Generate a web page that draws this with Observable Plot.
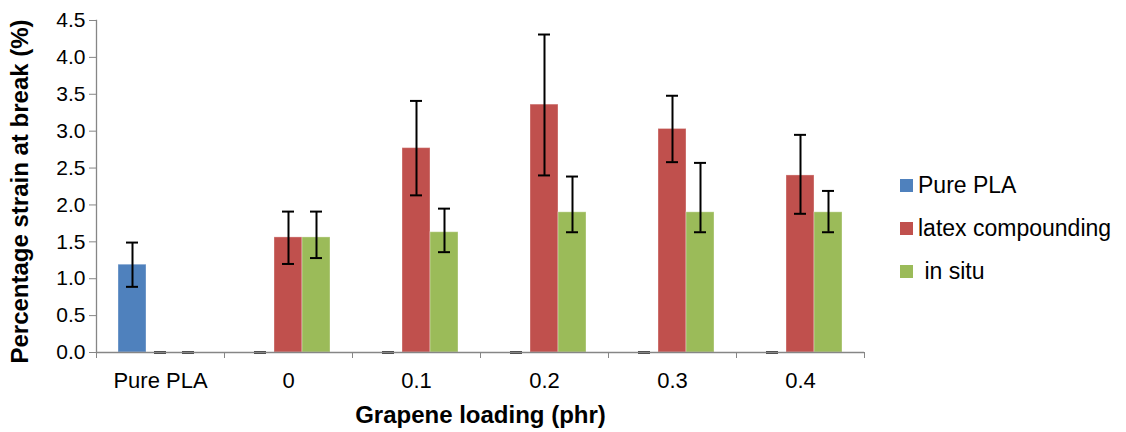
<!DOCTYPE html>
<html>
<head>
<meta charset="utf-8">
<script src="https://cdn.jsdelivr.net/npm/d3@7"></script>
<script src="https://cdn.jsdelivr.net/npm/@observablehq/plot@0.6"></script>
<style>
  html, body { margin: 0; padding: 0; background: #fff; }
  #wrap { position: relative; width: 1126px; height: 432px; font-family: "Liberation Sans", Arial, sans-serif; }
  #legend { position: absolute; left: 900px; top: 164px; font-size: 23px; color: #000; }
  .row { display: flex; align-items: center; height: 43px; }
  .sw { width: 13px; height: 13px; margin-right: 5px; }
</style>
</head>
<body>
<div id="wrap"><div id="legend"></div></div>
<script>
const categories = ["Pure PLA", "0", "0.1", "0.2", "0.3", "0.4"];
const seriesNames = ["Pure PLA", "latex compounding", " in situ"];
const colors = ["#4F81BD", "#C0504D", "#9BBB59"];

const purePLA    = [1.19, 0, 0, 0, 0, 0];
const purePLAHi  = [1.49, 0, 0, 0, 0, 0];
const purePLALo  = [0.89, 0, 0, 0, 0, 0];

const latex      = [0, 1.56, 2.77, 3.36, 3.03, 2.40];
const latexHi    = [0, 1.91, 3.41, 4.31, 3.48, 2.95];
const latexLo    = [0, 1.20, 2.13, 2.40, 2.58, 1.88];

const inSitu     = [0, 1.56, 1.63, 1.90, 1.90, 1.90];
const inSituHi   = [0, 1.91, 1.95, 2.385, 2.57, 2.19];
const inSituLo   = [0, 1.28, 1.36, 1.63, 1.63, 1.63];

const yTicks = [0, 0.5, 1, 1.5, 2, 2.5, 3, 3.5, 4, 4.5];
const xTitle = "Grapene loading (phr)";
const yTitle = "Percentage strain at break (%)";

const values = [purePLA, latex, inSitu];
const his = [purePLAHi, latexHi, inSituHi];
const los = [purePLALo, latexLo, inSituLo];

const data = [];
categories.forEach((c, i) => {
  seriesNames.forEach((s, j) => {
    data.push({cat: c, series: s, value: values[j][i], hi: his[j][i], lo: los[j][i]});
  });
});

const lastCat = categories[categories.length - 1];

const chart = Plot.plot({
  width: 1126,
  height: 432,
  marginLeft: 96,
  marginRight: 262,
  marginTop: 20,
  marginBottom: 80,
  style: {fontFamily: "'Liberation Sans', Arial, sans-serif", background: "white", color: "black"},
  fx: {domain: categories, padding: 0, label: null},
  x: {domain: seriesNames, paddingInner: 0, paddingOuter: 0.75, axis: null},
  y: {domain: [0, 4.5], label: null},
  color: {domain: seriesNames, range: colors},
  marks: [
    Plot.barY(data, {fx: "cat", x: "series", y: "value", fill: "series", stroke: "white", strokeOpacity: 0.35, strokeWidth: 1}),
    Plot.ruleX(data.filter(d => d.hi > d.lo), {fx: "cat", x: "series", y1: "lo", y2: "hi", stroke: "black", strokeWidth: 2}),
    Plot.tickY(data, {fx: "cat", x: "series", y: "hi", stroke: "black", strokeWidth: 2, insetLeft: 8, insetRight: 8}),
    Plot.tickY(data, {fx: "cat", x: "series", y: "lo", stroke: "black", strokeWidth: 2, insetLeft: 8, insetRight: 8}),
    Plot.ruleY([0], {stroke: "#868686", strokeWidth: 1.3}),
    Plot.frame({anchor: "left", stroke: "#868686", strokeWidth: 1.3, facet: "super"}),
    Plot.axisY({ticks: yTicks, tickFormat: d3.format(".1f"), tickSize: 7, tickPadding: 4, stroke: "#868686", fill: "black", fontSize: 21, label: null}),
    Plot.axisFx({anchor: "bottom", tickSize: 0, tickPadding: 20, fontSize: 22, fill: "black", label: null}),
    Plot.axisFx({anchor: "bottom", tickSize: 6, tickFormat: () => "", dx: -64, stroke: "#868686", label: null}),
    Plot.axisFx({anchor: "bottom", ticks: [lastCat], tickSize: 6, tickFormat: () => "", dx: 64, stroke: "#868686", label: null}),
    Plot.text([xTitle], {text: d => d, frameAnchor: "bottom", dy: 63, facet: "super", fontWeight: "bold", fontSize: 24, lineAnchor: "middle", fill: "black"}),
    Plot.text([yTitle], {text: d => d, frameAnchor: "left", dx: -76, dy: 5, rotate: -90, facet: "super", fontWeight: "bold", fontSize: 24, lineAnchor: "middle", textAnchor: "middle", fill: "black"})
  ]
});

const wrap = document.getElementById("wrap");
wrap.insertBefore(chart, wrap.firstChild);

const legend = d3.select("#legend");
seriesNames.forEach((s, j) => {
  const row = legend.append("div").attr("class", "row");
  row.append("div").attr("class", "sw").style("background", colors[j]);
  row.append("span").style("white-space", "pre").text(s);
});
</script>
</body>
</html>
